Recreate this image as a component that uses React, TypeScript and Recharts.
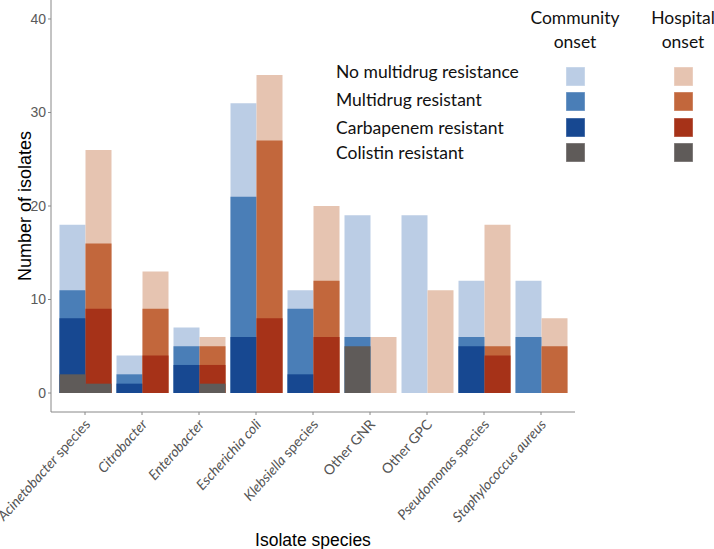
import React from 'react';
import { BarChart, Bar, XAxis, YAxis } from 'recharts';

const categories = [
  'Acinetobacter species',
  'Citrobacter',
  'Enterobacter',
  'Escherichia coli',
  'Klebsiella species',
  'Other GNR',
  'Other GPC',
  'Pseudomonas species',
  'Staphylococcus aureus',
];
// italic part of each label (genus / species names)
const italicParts = [
  'Acinetobacter',
  'Citrobacter',
  'Enterobacter',
  'Escherichia coli',
  'Klebsiella',
  '',
  '',
  'Pseudomonas',
  'Staphylococcus aureus',
];

const commNoMDR = [18, 4, 7, 31, 11, 19, 19, 12, 12];
const commMDR = [11, 2, 5, 21, 9, 6, 0, 6, 6];
const commCarb = [8, 1, 3, 6, 2, 0, 0, 5, 0];
const commCol = [2, 0, 0, 0, 0, 5, 0, 0, 0];

const hospNoMDR = [26, 13, 6, 34, 20, 6, 11, 18, 8];
const hospMDR = [16, 9, 5, 27, 12, 0, 0, 5, 5];
const hospCarb = [9, 4, 3, 8, 6, 0, 0, 4, 0];
const hospCol = [1, 0, 1, 0, 0, 0, 0, 0, 0];

const yTicks = [0, 10, 20, 30, 40];

const legendLabels = [
  'No multidrug resistance',
  'Multidrug resistant',
  'Carbapenem resistant',
  'Colistin resistant',
];

const commColors = ['#BBCDE5', '#4A7EB7', '#174891', '#5F5B59'];
const hospColors = ['#E6C4B1', '#C2673C', '#A63218', '#5F5B59'];

const data = categories.map((c, i) => ({
  name: c,
  c0: commNoMDR[i],
  c1: commMDR[i],
  c2: commCarb[i],
  c3: commCol[i],
  h0: hospNoMDR[i],
  h1: hospMDR[i],
  h2: hospCarb[i],
  h3: hospCol[i],
}));

const CAL = 'Lato, "Open Sans", sans-serif';
const ARIAL = '"Liberation Sans", Arial, sans-serif';

const XTick = (props: any) => {
  const { x, y, payload } = props;
  const name: string = payload.value;
  const idx = categories.indexOf(name);
  const ital = idx >= 0 ? italicParts[idx] : '';
  const rest = name.slice(ital.length);
  const ax = x + 6;
  const ay = y + 8;
  return (
    <text
      x={ax}
      y={ay}
      textAnchor="end"
      transform={`rotate(-48, ${ax}, ${ay})`}
      fontFamily={CAL}
      fontSize={14}
      fill="#555"
    >
      {ital ? <tspan fontStyle="italic">{ital}</tspan> : null}
      {rest ? <tspan>{rest}</tspan> : null}
    </text>
  );
};

const legendRowsText = [78, 106, 134, 159];
const legendRowsBox = [67, 92, 118, 143];

export default function App() {
  const layers = [0, 1, 2, 3];
  return (
    <div style={{ position: 'absolute', left: 0, top: 0, width: 714, height: 549, background: '#fff' }}>
      <BarChart
        width={714}
        height={549}
        data={data}
        margin={{ top: 0, right: 139, bottom: 0, left: 0 }}
        barGap={0}
        barSize={26}
      >
        {layers.map((l) => (
          <XAxis
            key={'x' + l}
            xAxisId={l}
            dataKey="name"
            hide={l !== 0}
            height={137}
            padding={{ left: 5.5, right: 5.5 }}
            interval={0}
            tickSize={3}
            tickLine={{ stroke: '#888' }}
            axisLine={{ stroke: '#888' }}
            tick={<XTick />}
          />
        ))}
        <YAxis
          width={51}
          domain={[-2.03, 42.03]}
          ticks={yTicks}
          allowDataOverflow
          tickSize={3}
          tickMargin={2}
          tickLine={{ stroke: '#888' }}
          axisLine={{ stroke: '#888' }}
          tick={{ fill: '#5a5a5a', fontSize: 14, fontFamily: ARIAL }}
        />
        {layers.map((l) => [
          <Bar
            key={'c' + l}
            xAxisId={l}
            dataKey={'c' + l}
            fill={commColors[l]}
            isAnimationActive={false}
          />,
          <Bar
            key={'h' + l}
            xAxisId={l}
            dataKey={'h' + l}
            fill={hospColors[l]}
            isAnimationActive={false}
          />,
        ])}
      </BarChart>
      <svg
        width={714}
        height={549}
        style={{ position: 'absolute', left: 0, top: 0, pointerEvents: 'none' }}
      >
        <text
          x={31}
          y={206}
          transform="rotate(-90, 31, 206)"
          textAnchor="middle"
          fontFamily={ARIAL}
          fontSize={18}
          fill="#000"
        >
          Number of isolates
        </text>
        <text x={313} y={546} textAnchor="middle" fontFamily={ARIAL} fontSize={17.5} fill="#000">
          Isolate species
        </text>
        <text x={575} y={24} textAnchor="middle" fontFamily={CAL} fontSize={17.5} fill="#111">
          Community
        </text>
        <text x={575} y={48} textAnchor="middle" fontFamily={CAL} fontSize={17.5} fill="#111">
          onset
        </text>
        <text x={683} y={24} textAnchor="middle" fontFamily={CAL} fontSize={17.5} fill="#111">
          Hospital
        </text>
        <text x={683} y={48} textAnchor="middle" fontFamily={CAL} fontSize={17.5} fill="#111">
          onset
        </text>
        {legendLabels.map((lab, i) => (
          <g key={lab}>
            <text x={336} y={legendRowsText[i]} fontFamily={CAL} fontSize={17.5} fill="#111">
              {lab}
            </text>
            <rect x={566} y={legendRowsBox[i]} width={19} height={19} fill={commColors[i]} stroke="#fff" strokeOpacity={0.4} />
            <rect x={674} y={legendRowsBox[i]} width={19} height={19} fill={hospColors[i]} stroke="#fff" strokeOpacity={0.4} />
          </g>
        ))}
      </svg>
    </div>
  );
}
